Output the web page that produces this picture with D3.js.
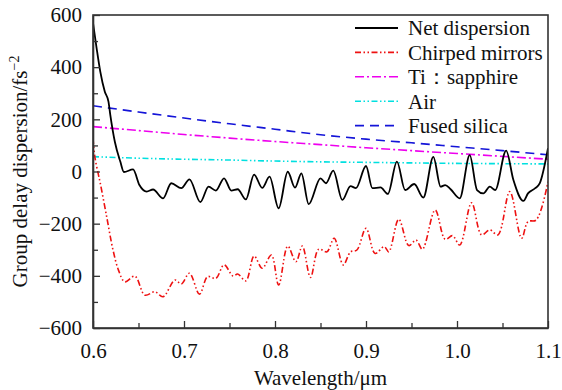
<!DOCTYPE html>
<html>
<head>
<meta charset="utf-8">
<script src="https://cdn.jsdelivr.net/npm/d3@7"></script>
<style>
  body { margin: 0; background: #fff; }
  text { font-family: "Liberation Serif", "Times New Roman", serif; fill: #111; }
</style>
</head>
<body>
<div id="chart-area"></div>
<script>
// wavelength (um) vs group delay dispersion (fs^2)
let netDispersion = [
  [0.600, 570], [0.604, 472], [0.608, 383], [0.613, 306], [0.617, 268], [0.619, 217],
  [0.624, 114], [0.630, 38], [0.634, -2], [0.644, 8], [0.651, -52], [0.659, -77],
  [0.666, -69], [0.677, -103], [0.686, -45], [0.697, -64], [0.706, -30], [0.718, -117],
  [0.727, -58], [0.735, -73], [0.744, -26], [0.752, -73], [0.759, -68], [0.768, -107],
  [0.777, -12], [0.786, -63], [0.794, -20], [0.804, -141], [0.814, -1], [0.822, -62],
  [0.829, -7], [0.837, -125], [0.850, -26], [0.856, -45], [0.864, 3], [0.874, -109],
  [0.883, -56], [0.889, -64], [0.900, 21], [0.907, -64], [0.916, -61], [0.924, -86],
  [0.934, 38], [0.943, -71], [0.953, -48], [0.963, -100], [0.974, 56], [0.982, -58],
  [0.987, -52], [0.993, -68], [1.003, -103], [1.014, 63], [1.022, -71], [1.029, -84],
  [1.036, -58], [1.042, -71], [1.054, 80], [1.062, -33], [1.073, -113], [1.078, -84],
  [1.086, -64], [1.091, -45], [1.100, 89]
];
let chirpedMirrors = [
  [0.600, 128], [0.602, 57], [0.606, -13], [0.608, -45], [0.615, -173], [0.622, -301],
  [0.628, -378], [0.635, -423], [0.646, -401], [0.657, -474], [0.668, -461], [0.677, -480],
  [0.690, -416], [0.697, -431], [0.706, -390], [0.717, -470], [0.726, -403], [0.735, -410],
  [0.744, -358], [0.754, -401], [0.759, -393], [0.768, -419], [0.777, -324], [0.786, -371],
  [0.796, -320], [0.804, -435], [0.814, -286], [0.823, -346], [0.830, -286], [0.839, -406],
  [0.848, -298], [0.857, -308], [0.865, -256], [0.875, -358], [0.883, -308], [0.890, -301],
  [0.900, -218], [0.910, -314], [0.920, -288], [0.925, -308], [0.936, -183], [0.947, -284],
  [0.955, -263], [0.962, -298], [0.976, -148], [0.987, -260], [0.995, -246], [1.003, -282],
  [1.016, -120], [1.027, -243], [1.036, -224], [1.045, -243], [1.058, -77], [1.071, -256],
  [1.078, -192], [1.087, -186], [1.100, -39]
];
let tiSapphire = [
  [0.60, 172], [0.65, 157], [0.70, 142], [0.75, 128], [0.80, 115], [0.85, 103],
  [0.90, 91], [0.95, 80], [1.00, 69], [1.05, 58], [1.10, 47]
];
let air = [
  [0.60, 57], [0.65, 51], [0.70, 47], [0.75, 44], [0.80, 40], [0.85, 37],
  [0.90, 35], [0.95, 33], [1.00, 31], [1.05, 30], [1.10, 29]
];
let fusedSilica = [
  [0.60, 252], [0.65, 228], [0.70, 205], [0.75, 183], [0.80, 162], [0.85, 141],
  [0.90, 124], [0.95, 110], [1.00, 95], [1.05, 80], [1.10, 64]
];

let seriesNames = ["Net dispersion", "Chirped mirrors", "Ti\uFF1Asapphire", "Air", "Fused silica"];
let xTicks = [0.6, 0.7, 0.8, 0.9, 1.0, 1.1];
let xMinorTicks = [0.65, 0.75, 0.85, 0.95, 1.05];
let yTicks = [-600, -400, -200, 0, 200, 400, 600];
let yMinorTicks = [-500, -300, -100, 100, 300, 500];

let margin = {left: 93, right: 14, top: 15, bottom: 62};
let width = 562 - margin.left - margin.right,
    height = 390 - margin.top - margin.bottom;
let fontSize = "21px";

let svg = d3.select("#chart-area")
    .append("svg")
    .attr("width", 562)
    .attr("height", 390);

let g = svg.append("g")
    .attr("transform", "translate(" + margin.left + "," + margin.top + ")");

// Scales
let x = d3.scaleLinear().domain([0.6, 1.1]).range([0, width]);
let y = d3.scaleLinear().domain([-600, 600]).range([height, 0]);

let series = [
  {name: seriesNames[0], data: netDispersion, color: "#000000", dash: null, w: 1.8, curve: d3.curveMonotoneX},
  {name: seriesNames[1], data: chirpedMirrors, color: "#ee1111", dash: "6,2.5,1.5,2.5,1.5,2.5", w: 1.6, curve: d3.curveCatmullRom},
  {name: seriesNames[2], data: tiSapphire, color: "#ee00ee", dash: "9,3,2,3", w: 1.6, curve: d3.curveMonotoneX},
  {name: seriesNames[3], data: air, color: "#00e0e0", dash: "6,2.5,1.5,2.5,1.5,2.5", w: 1.6, curve: d3.curveMonotoneX},
  {name: seriesNames[4], data: fusedSilica, color: "#1414d8", dash: "9,6", w: 1.6, curve: d3.curveMonotoneX}
];

// Lines (net dispersion drawn last so it sits on top)
g.append("defs").append("clipPath").attr("id", "clip")
    .append("rect").attr("width", width).attr("height", height);

[4, 3, 2, 1, 0].forEach(i => {
  let s = series[i];
  let line = d3.line()
      .x(d => x(d[0]))
      .y(d => y(d[1]))
      .curve(s.curve);
  g.append("path")
      .datum(s.data)
      .attr("clip-path", "url(#clip)")
      .attr("fill", "none")
      .attr("stroke", s.color)
      .attr("stroke-width", s.w)
      .attr("stroke-dasharray", s.dash)
      .attr("d", line);
});

// X Axis
let xAxisCall = d3.axisBottom(x)
    .tickValues(xTicks)
    .tickFormat(d3.format(".1f"))
    .tickSizeInner(-7)
    .tickSizeOuter(0)
    .tickPadding(15);
g.append("g")
    .attr("transform", "translate(0," + height + ")")
    .call(xAxisCall);
g.append("g")
    .attr("transform", "translate(0," + height + ")")
    .call(d3.axisBottom(x).tickValues(xMinorTicks).tickFormat("").tickSizeInner(-5).tickSizeOuter(0))
    .select(".domain").remove();

// Y Axis
let yAxisCall = d3.axisLeft(y)
    .tickValues(yTicks)
    .tickSizeInner(-7)
    .tickSizeOuter(0)
    .tickPadding(11);
g.append("g").call(yAxisCall);
g.append("g")
    .call(d3.axisLeft(y).tickValues(yMinorTicks).tickFormat("").tickSizeInner(-5).tickSizeOuter(0))
    .select(".domain").remove();

g.selectAll(".tick text").attr("font-size", fontSize).attr("font-family", "Liberation Serif");
g.selectAll(".tick line").attr("stroke", "#333").attr("stroke-width", 1.3);
g.selectAll(".domain").attr("stroke", "#333").attr("stroke-width", 1.6);

// Frame
g.append("rect")
    .attr("width", width)
    .attr("height", height)
    .attr("fill", "none")
    .attr("stroke", "#333")
    .attr("stroke-width", 1.6);

// Labels
svg.append("text")
    .attr("x", margin.left + width / 2)
    .attr("y", 385)
    .attr("font-size", fontSize)
    .attr("text-anchor", "middle")
    .text("Wavelength/\u03BCm");

let yLabel = svg.append("text")
    .attr("transform", "translate(27," + (margin.top + height / 2) + ") rotate(-90)")
    .attr("font-size", fontSize)
    .attr("text-anchor", "middle");
yLabel.append("tspan").text("Group delay dispersion/fs");
yLabel.append("tspan").attr("dy", -8).attr("font-size", "14px").text("\u22122");

// Legend
let legend = svg.append("g").attr("transform", "translate(355,28)");
series.forEach((s, i) => {
  let row = legend.append("g").attr("transform", `translate(0,${i * 24.4})`);
  row.append("line")
      .attr("x1", 0).attr("x2", 43)
      .attr("stroke", s.color)
      .attr("stroke-width", s.w)
      .attr("stroke-dasharray", s.dash);
  row.append("text")
      .attr("x", 53)
      .attr("dy", "0.35em")
      .attr("font-size", fontSize)
      .text(s.name);
});
</script>
</body>
</html>
